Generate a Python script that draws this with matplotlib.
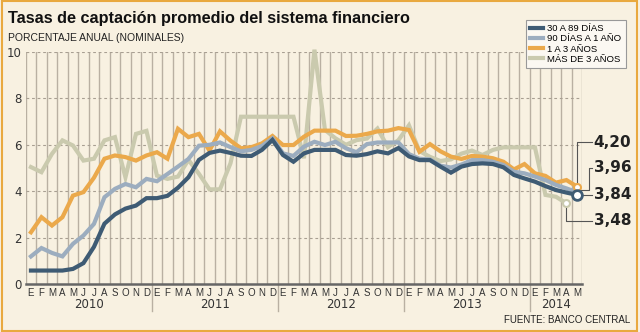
import matplotlib
matplotlib.use("Agg")
import matplotlib.pyplot as plt
from matplotlib.lines import Line2D
from matplotlib.patches import Rectangle

# monthly rates, Jan 2010 .. May 2014
meses = ['E', 'F', 'M', 'A', 'M', 'J', 'J', 'A', 'S', 'O', 'N', 'D']
anios = ['2010', '2011', '2012', '2013', '2014']

d30_89 = [0.58, 0.58, 0.58, 0.58, 0.65, 0.9, 1.6, 2.6, 3.0, 3.25, 3.38, 3.7,
          3.7, 3.8, 4.15, 4.6, 5.35, 5.65, 5.75, 5.65, 5.53, 5.52, 5.78, 6.21,
          5.56, 5.27, 5.63, 5.78, 5.78, 5.78, 5.56, 5.53, 5.6, 5.72, 5.63, 5.86,
          5.5, 5.34, 5.34, 5.06, 4.8, 5.06, 5.17, 5.2, 5.17, 5.03, 4.7, 4.55,
          4.41, 4.22, 4.05, 3.94, 3.84]
d90_1a = [1.19, 1.55, 1.34, 1.19, 1.73, 2.09, 2.59, 3.74, 4.1, 4.31, 4.17, 4.53,
          4.43, 4.74, 5.06, 5.39, 5.96, 6.0, 6.1, 5.9, 5.72, 5.78, 5.95, 6.28,
          5.63, 5.52, 5.92, 6.13, 5.99, 6.13, 5.85, 5.68, 6.03, 6.1, 6.1, 6.1,
          5.6, 5.4, 5.37, 5.1, 5.02, 5.15, 5.34, 5.34, 5.27, 5.13, 4.84, 4.77,
          4.63, 4.48, 4.27, 4.12, 3.96]
a1_3 = [2.23, 2.88, 2.52, 2.88, 3.81, 3.96, 4.58, 5.4, 5.54, 5.47, 5.32, 5.54,
        5.68, 5.4, 6.69, 6.33, 6.47, 5.75, 6.58, 6.18, 5.85, 5.9, 6.06, 6.38,
        5.99, 5.99, 6.35, 6.61, 6.61, 6.61, 6.38, 6.39, 6.47, 6.58, 6.61, 6.72,
        6.64, 5.7, 6.03, 5.72, 5.49, 5.39, 5.52, 5.49, 5.42, 5.27, 4.94, 5.17,
        4.77, 4.66, 4.37, 4.48, 4.20]
mas3 = [5.04, 4.82, 5.61, 6.19, 5.97, 5.32, 5.4, 6.19, 6.33, 4.6, 6.47, 6.6,
        4.67, 4.53, 4.63, 5.35, 4.75, 4.08, 4.08, 5.2, 7.21, 7.21, 7.21, 7.21,
        7.21, 7.21, 5.42, 10.1, 6.64, 6.28, 6.0, 6.2, 6.27, 6.7, 5.9, 6.2,
        6.84, 5.73, 5.48, 5.3, 5.37, 5.62, 5.75, 5.56, 5.78, 5.89, 5.89, 5.89,
        5.89, 3.84, 3.76, 3.48]

bg = '#f8f1e1'
c_dark = '#3e5b74'
c_light = '#9cadbf'
c_orange = '#eba94b'
c_mas = '#cacaae'
txt = '#222222'
sans = ['Liberation Sans', 'DejaVu Sans']

fig = plt.figure(figsize=(6.4, 3.32), dpi=100, facecolor=bg)
fig.patches.append(Rectangle((1.5 / 640, 1.5 / 332), 635.5 / 640, 329.5 / 332,
                             transform=fig.transFigure, fill=False,
                             edgecolor='#e9a93f', linewidth=1.5))
ax = fig.add_axes([25.7 / 640, 48 / 332, 556.5 / 640, 232 / 332])
ax.set_facecolor(bg)

n = len(d30_89)
x = list(range(n))

# vertical month grid
for b in range(n + 1):
    ax.axvline(b - 0.5, color='#b9b0a2', linewidth=1.0, zorder=1)
# year separators below axis
for k in range(1, len(anios)):
    ax.add_line(Line2D([12 * k - 0.5] * 2, [0, -0.115], transform=ax.get_xaxis_transform(),
                       color='#b9b0a2', linewidth=1.0, clip_on=False))
for v in [2, 4, 6, 8, 10]:
    ax.axhline(v, color='#a89f92', linewidth=0.8, linestyle=(0, (2.5, 2.5)), zorder=1)

ax.plot(x[:len(mas3)], mas3, color=c_mas, linewidth=3, zorder=3, clip_on=False, solid_joinstyle='miter')
ax.plot(x, a1_3, color=c_orange, linewidth=3, zorder=4, solid_joinstyle='miter')
ax.plot(x, d90_1a, color=c_light, linewidth=3, zorder=5, solid_joinstyle='miter')
ax.plot(x, d30_89, color=c_dark, linewidth=3, zorder=6, solid_joinstyle='miter')

# end markers
ax.plot(n - 1, a1_3[-1], 'o', ms=5, mfc='white', mec=c_orange, mew=1.5, zorder=7, clip_on=False)
ax.plot(len(mas3) - 1, mas3[-1], 'o', ms=5, mfc='white', mec=c_mas, mew=1.5, zorder=7, clip_on=False)
ax.plot(n - 1, d30_89[-1], 'o', ms=7, mfc='white', mec=c_dark, mew=2, zorder=8, clip_on=False)

# callouts
lx = n + 0.4
ly = {'4,20': 6.12, '3,96': 5.0, '3,84': 3.84, '3,48': 2.72}
lc = '#555555'
ax.plot([n - 1, n - 1, lx], [a1_3[-1] + 0.15, ly['4,20'], ly['4,20']], color=lc, lw=0.8, clip_on=False, zorder=2)
ax.plot([n - 0.6, n + 0.1, n + 0.1, lx], [d90_1a[-1] + 0.08, d90_1a[-1] + 0.08, ly['3,96'], ly['3,96']],
        color=lc, lw=0.8, clip_on=False, zorder=2)
ax.plot([n - 1, lx], [ly['3,84'], ly['3,84']], color=lc, lw=0.8, clip_on=False, zorder=2)
ax.plot([len(mas3) - 1, len(mas3) - 1, lx], [mas3[-1] - 0.15, ly['3,48'], ly['3,48']],
        color=lc, lw=0.8, clip_on=False, zorder=2)
for s, yv in ly.items():
    ax.text(n + 0.6, yv, s, fontsize=11, fontweight='bold', color=txt, va='center', ha='left')

ax.set_xlim(-0.5, n - 0.5)
ax.set_ylim(0, 10)
ax.set_yticks([0, 2, 4, 6, 8, 10])
ax.set_xticks(x)
ax.set_xticklabels([meses[i % 12] for i in x], fontsize=7, color='#333333', family=sans)
ax.tick_params(axis='x', length=0, pad=3)
ax.tick_params(axis='y', length=0, pad=3, labelsize=8.5, labelcolor='#333333')
for s in ['top', 'right', 'left']:
    ax.spines[s].set_visible(False)
ax.spines['bottom'].set_color('#666666')
ax.spines['bottom'].set_linewidth(1.8)
ax.spines['bottom'].set_zorder(9)

for k, a in enumerate(anios):
    m = min(12, n - 12 * k)
    ax.text(12 * k + (m - 1) / 2, -0.09, a, transform=ax.get_xaxis_transform(),
            ha='center', va='center', fontsize=8.5, color='#333333')

fig.text(8 / 640, 1 - 18 / 332, 'Tasas de captación promedio del sistema financiero',
         fontsize=11.7, fontweight='bold', color='#111111', va='center', ha='left', family=sans)
fig.text(8 / 640, 1 - 38 / 332, 'PORCENTAJE ANUAL (NOMINALES)', fontsize=7.5,
         color='#222222', va='center', ha='left', family=sans)
fig.text(630 / 640, 1 - 320 / 332, 'FUENTE: BANCO CENTRAL', fontsize=7,
         color='#222222', va='center', ha='right', family=sans)

handles = [Line2D([], [], color=c, linewidth=3) for c in [c_dark, c_light, c_orange, c_mas]]
leg = fig.legend(handles, ['30 A 89 DÍAS', '90 DÍAS A 1 AÑO', '1 A 3 AÑOS', 'MÁS DE 3 AÑOS'],
                 loc='upper left', bbox_to_anchor=(526 / 640, 1 - 20 / 332),
                 prop={'family': sans, 'size': 6.8}, frameon=True, fancybox=False,
                 handlelength=1.3, handletextpad=0.5, labelspacing=0.12,
                 borderpad=0.45, borderaxespad=0)
leg.get_frame().set_facecolor('#fbf8f2')
leg.get_frame().set_edgecolor('#999999')
leg.get_frame().set_linewidth(0.8)
leg.get_frame().set_alpha(1)

fig.savefig('out.png', dpi=100, facecolor=bg)
